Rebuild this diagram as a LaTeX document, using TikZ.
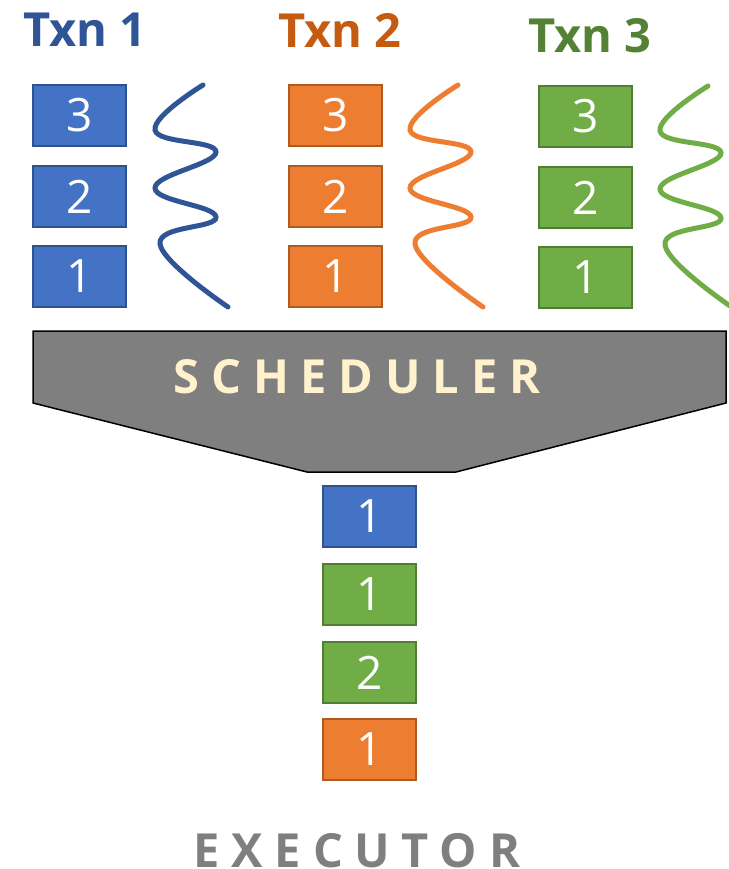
\documentclass[tikz,border=0pt]{standalone}
\usepackage{fontspec}
\setmainfont{Open Sans}
\newfontfamily\spacedfont[LetterSpace=25]{Open Sans}
\usepackage{tikz}
\usetikzlibrary{positioning,calc}
\usepackage{xcolor}

\definecolor{opblue}{HTML}{4472C4}
\definecolor{opblueline}{HTML}{2F528F}
\definecolor{txnblue}{HTML}{2F5597}
\definecolor{oporange}{HTML}{ED7D31}
\definecolor{oporangeline}{HTML}{AE5A21}
\definecolor{txnorange}{HTML}{C55A11}
\definecolor{opgreen}{HTML}{70AD47}
\definecolor{opgreenline}{HTML}{507E32}
\definecolor{txngreen}{HTML}{548235}
\definecolor{schedgray}{HTML}{7F7F7F}
\definecolor{schedtext}{HTML}{FFF2CC}

\tikzset{
  op/.style={draw, line width=1.8pt, minimum width=93pt, minimum height=61pt,
    inner sep=0pt, text=white, font=\fontsize{46}{48}\selectfont},
  bluop/.style={op, fill=opblue, draw=opblueline},
  orgop/.style={op, fill=oporange, draw=oporangeline},
  grnop/.style={op, fill=opgreen, draw=opgreenline},
  txnlabel/.style={anchor=base, inner sep=0pt, font=\fontsize{47}{50}\selectfont\bfseries},
  wave/.style={line width=5pt, line cap=round}
}

\begin{document}
\begin{tikzpicture}[x=1pt, y=-1pt]
\useasboundingbox (0,0) rectangle (728,869);

% Transaction titles
\node[txnlabel, text=txnblue] (txn1) at (85,47) {Txn 1};
\node[txnlabel, text=txnorange] (txn2) at (340,48) {Txn 2};
\node[txnlabel, text=txngreen] (txn3) at (590,53) {Txn 3};

% Operations of each transaction
\node[bluop] (b3) at (79.5,115.5) {3};
\node[bluop] (b2) at (79.5,196.5) {2};
\node[bluop] (b1) at (79.5,276.5) {1};

\node[orgop] (o3) at (335.5,115.5) {3};
\node[orgop] (o2) at (335.5,196.5) {2};
\node[orgop] (o1) at (335.5,276.5) {1};

\node[grnop] (g3) at (585.5,116.5) {3};
\node[grnop] (g2) at (585.5,197.5) {2};
\node[grnop] (g1) at (585.5,277.5) {1};

% Squiggles
\draw[wave, txnblue] plot[smooth, tension=0.75] coordinates
  {(203,85) (155,130) (216,152) (155,188) (216,217) (160,244) (228,307)};
\draw[wave, oporange] plot[smooth, tension=0.75] coordinates
  {(458,85) (410,130) (471,152) (410,188) (471,217) (415,244) (483,307)};
\draw[wave, opgreen] plot[smooth, tension=0.75] coordinates
  {(708,86) (660,131) (721,153) (660,189) (721,218) (665,245) (733,308)};

% Scheduler
\draw[fill=schedgray, line width=1.5pt] (33,331) -- (726,331) -- (726,403)
  -- (456,472) -- (307,472) -- (33,403) -- cycle;
\node[anchor=base, inner sep=0pt, text=schedtext,
  font=\fontsize{47}{50}\spacedfont\bfseries] (sched) at (357,393) {SCHEDULER};

% Executor order
\node[bluop] (x1) at (369.5,516.5) {1};
\node[grnop] (x2) at (369.5,594.5) {1};
\node[grnop] (x3) at (369.5,672.5) {2};
\node[orgop] (x4) at (369.5,749.5) {1};

\node[anchor=base, inner sep=0pt, text=schedgray,
  font=\fontsize{47}{50}\spacedfont\bfseries] (exec) at (357,867) {EXECUTOR};

\end{tikzpicture}
\end{document}
